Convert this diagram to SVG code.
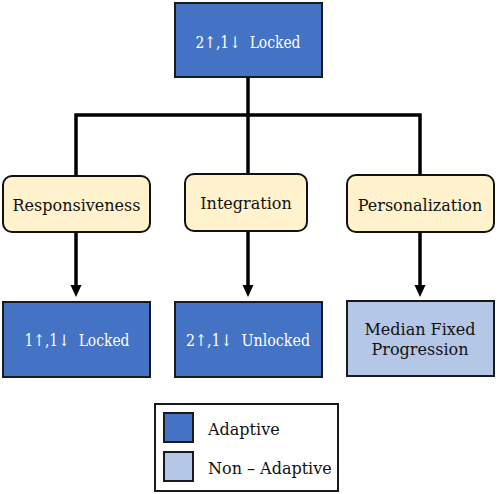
<svg xmlns="http://www.w3.org/2000/svg" width="498" height="494" viewBox="0 0 498 494">
<defs>
<style>
text{font-family:'DejaVu Serif',serif;font-size:16px;text-anchor:middle;dominant-baseline:central;white-space:pre}
.w{fill:#ffffff}
.k{fill:#111111}
.dark{fill:#4472c4;stroke:#1a1a1a;stroke-width:2}
.light{fill:#b4c7e7;stroke:#1a1a1a;stroke-width:2}
.cat{fill:#fff2cc;stroke:#111111;stroke-width:2}
.c{fill:none;stroke:#000;stroke-width:3.5}
</style>
</defs>
<rect width="498" height="494" fill="#ffffff"/>
<g id="connectors">
<path class="c" d="M248,77 V115"/>
<path class="c" d="M76,175 V115 H420 V175"/>
<path class="c" d="M248,115 V175"/>
<path class="c" d="M76,232 V285"/>
<path class="c" d="M248,231 V285"/>
<path class="c" d="M420,232 V285"/>
<path d="M70.5,285 L81.5,285 L76,297 Z"/>
<path d="M242.5,285 L253.5,285 L248,297 Z"/>
<path d="M414.5,285 L425.5,285 L420,297 Z"/>
</g>
<g id="root">
<rect class="dark" x="175" y="3" width="147" height="74"/>
<text class="w" x="248" y="42" xml:space="preserve" textLength="105" lengthAdjust="spacingAndGlyphs">2↑,1↓  Locked</text>
</g>
<g id="responsiveness">
<rect class="cat" x="3" y="176" width="147" height="56" rx="9"/>
<text class="k" x="76.5" y="205">Responsiveness</text>
</g>
<g id="integration">
<rect class="cat" x="185" y="174" width="122" height="57" rx="9"/>
<text class="k" x="246" y="203">Integration</text>
</g>
<g id="personalization">
<rect class="cat" x="347" y="175" width="147" height="57" rx="9"/>
<text class="k" x="420" y="205">Personalization</text>
</g>
<g id="locked11">
<rect class="dark" x="3" y="302" width="147" height="75"/>
<text class="w" x="77" y="340" xml:space="preserve" textLength="105" lengthAdjust="spacingAndGlyphs">1↑,1↓  Locked</text>
</g>
<g id="unlocked21">
<rect class="dark" x="175" y="302" width="147" height="75"/>
<text class="w" x="248" y="340" xml:space="preserve" textLength="124" lengthAdjust="spacingAndGlyphs">2↑,1↓  Unlocked</text>
</g>
<g id="median">
<rect class="light" x="347" y="301" width="147" height="75"/>
<text class="k" x="420" y="329">Median Fixed</text>
<text class="k" x="420" y="349">Progression</text>
</g>
<g id="legend">
<rect x="155" y="404" width="183" height="87" fill="#ffffff" stroke="#1a1a1a" stroke-width="2"/>
<rect class="dark" x="164" y="413" width="29" height="29"/>
<rect class="light" x="164" y="452" width="29" height="29"/>
<text class="k" x="208" y="429" style="text-anchor:start">Adaptive</text>
<text class="k" x="208" y="468" style="text-anchor:start">Non – Adaptive</text>
</g>
</svg>
